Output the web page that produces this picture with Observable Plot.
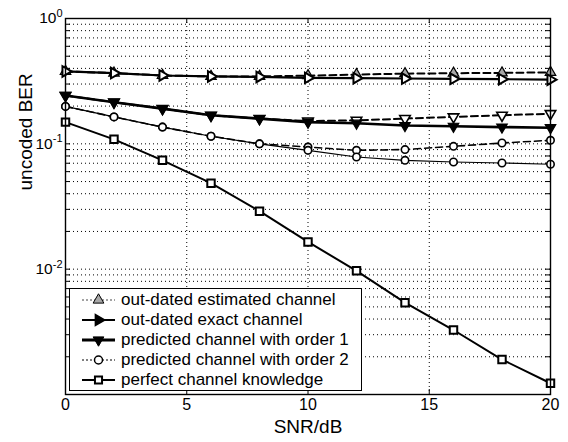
<!DOCTYPE html>
<html><head><meta charset="utf-8">
<script src="https://cdn.jsdelivr.net/npm/d3@7"></script>
<script src="https://cdn.jsdelivr.net/npm/@observablehq/plot@0.6"></script>
<style>
body{margin:0;background:#fff;font-family:"Liberation Sans",Arial,Helvetica,sans-serif;}
#wrap{position:relative;width:568px;height:442px;overflow:hidden;}
#legend{position:absolute;left:69px;top:288px;width:293px;height:103px;border:1.2px solid #000;background:#fff;box-sizing:border-box;}
.row{position:absolute;left:0;height:20px;display:flex;align-items:center;font-size:17px;color:#000;white-space:nowrap;}
.row svg{margin-left:12px;margin-right:6px;}
</style></head><body><div id="wrap"><div id="legend"></div></div>
<script>
// ---- data ----
const snr = [0, 2, 4, 6, 8, 10, 12, 14, 16, 18, 20];
const outdatedEstimated = [0.378, 0.367, 0.351, 0.345, 0.345, 0.350, 0.357, 0.363, 0.366, 0.368, 0.372];
const outdatedExact     = [0.378, 0.367, 0.351, 0.345, 0.342, 0.336, 0.334, 0.332, 0.330, 0.328, 0.325];
const predictedOrder1   = [0.243, 0.215, 0.191, 0.169, 0.159, 0.149, 0.146, 0.140, 0.138, 0.136, 0.1345];
const predictedOrder1Est= [0.243, 0.215, 0.191, 0.169, 0.159, 0.152, 0.154, 0.159, 0.164, 0.169, 0.174];
const predictedOrder2   = [0.199, 0.164, 0.136, 0.115, 0.100, 0.0888, 0.0785, 0.0739, 0.0716, 0.0703, 0.0687];
const predictedOrder2Est= [0.199, 0.164, 0.136, 0.115, 0.100, 0.0943, 0.0888, 0.0900, 0.0955, 0.1015, 0.1067];
const perfect           = [0.149, 0.1086, 0.0739, 0.0485, 0.029, 0.0165, 0.0097, 0.0054, 0.00327, 0.0019, 0.00123];

const xTicks = [0, 5, 10, 15, 20];
const xGrid = [5, 10, 15];
const yLabelExponents = [-2, -1, 0];
const legendLabels = [
  "out-dated estimated channel",
  "out-dated exact channel",
  "predicted channel with order 1",
  "predicted channel with order 2",
  "perfect channel knowledge"
];

// ---- build tables ----
const toRows = (vals) => snr.map((s, i) => ({snr: s, ber: vals[i]}));
const yTicks = yLabelExponents.map(e => Math.pow(10, e));
const yMinor = [];
for (let e = -3; e < 0; e++) for (let m = 1; m <= 9; m++) yMinor.push(m * Math.pow(10, e));
yMinor.push(1);
const yGrid = yMinor.filter(v => v > 1.0001e-3 && v < 0.9999);

// series styling (not data)
const series = [
  {vals: outdatedEstimated, line: {strokeWidth: 2, strokeDasharray: "7,4"}, dot: {symbol: "triangle", r: 3.9, fill: "#a8a8a8", stroke: "#000", strokeWidth: 1.2, rotate: 0}},
  {vals: outdatedExact, line: {strokeWidth: 2.2}, dot: {symbol: "triangle", r: 3.9, fill: "#fff", stroke: "#000", strokeWidth: 2, rotate: 90}},
  {vals: predictedOrder1Est, line: {strokeWidth: 2, strokeDasharray: "7,4"}, dot: {symbol: "triangle", r: 3.9, fill: "#fff", stroke: "#000", strokeWidth: 1.6, rotate: 180}},
  {vals: predictedOrder1, line: {strokeWidth: 2.6}, dot: {symbol: "triangle", r: 3.9, fill: "#000", stroke: "#000", strokeWidth: 1.2, rotate: 180}},
  {vals: predictedOrder2Est, line: {strokeWidth: 1.6, strokeDasharray: "7,4"}, dot: {symbol: "circle", r: 3.7, fill: "#fff", stroke: "#000", strokeWidth: 1.6, rotate: 0}},
  {vals: predictedOrder2, line: {strokeWidth: 1.2}, dot: {symbol: "circle", r: 3.7, fill: "#fff", stroke: "#000", strokeWidth: 1.6, rotate: 0}},
  {vals: perfect, line: {strokeWidth: 2}, dot: {symbol: "square", r: 4.2, fill: "#fff", stroke: "#000", strokeWidth: 2, rotate: 0}}
];

const W = 568, H = 442, mL = 65, mR = 18, mT = 18, mB = 48;
const plotW = W - mL - mR, plotH = H - mT - mB;

const marks = [
  Plot.ruleY(yGrid, {stroke: "#000", strokeWidth: 1, strokeDasharray: "1,3"}),
  Plot.ruleX(xGrid, {stroke: "#000", strokeWidth: 1, strokeDasharray: "1,3"}),
  // inward ticks
  Plot.tickX(xTicks, {x: d => d, insetTop: plotH - 5, stroke: "#000"}),
  Plot.tickX(xTicks, {x: d => d, insetBottom: plotH - 5, stroke: "#000"}),
  Plot.tickY(yMinor, {y: d => d, insetRight: plotW - 5, stroke: "#000"}),
  Plot.tickY(yMinor, {y: d => d, insetLeft: plotW - 5, stroke: "#000"}),
];
for (const s of series) {
  marks.push(Plot.line(toRows(s.vals), {x: "snr", y: "ber", stroke: "#000", ...s.line}));
}
for (const s of series) {
  marks.push(Plot.dot(toRows(s.vals), {x: "snr", y: "ber", ...s.dot}));
}
marks.push(
  Plot.frame({stroke: "#000", strokeWidth: 1.4}),
  Plot.axisX({ticks: xTicks, tickSize: 0, tickPadding: 4, fontSize: 16, label: null, tickFormat: d => String(d)}),
  Plot.axisY({ticks: yTicks, tickSize: 0, tickPadding: 3, fontSize: 15.5, label: null, tickFormat: d => "10^" + Math.round(Math.log10(d))}),
  Plot.text(["SNR/dB"], {frameAnchor: "bottom", dy: 38, fontSize: 19}),
  Plot.text(["uncoded BER"], {frameAnchor: "left", dx: -40, dy: -16, rotate: -90, fontSize: 19})
);

const chart = Plot.plot({
  width: W, height: H,
  marginLeft: mL, marginRight: mR, marginTop: mT, marginBottom: mB,
  style: {fontFamily: '"Liberation Sans", Arial, sans-serif', color: "#000", background: "#fff"},
  x: {domain: [0, 20]},
  y: {type: "log", domain: [1e-3, 1]},
  marks
});

// superscript exponents on the y tick labels
d3.select(chart).selectAll('g[aria-label="y-axis tick label"] text').each(function () {
  const t = this.textContent;
  const m = /^10\^(-?\d+)$/.exec(t);
  if (!m) return;
  const sel = d3.select(this);
  sel.text("");
  sel.append("tspan").text("10");
  sel.append("tspan").attr("dy", "-0.6em").attr("font-size", 11).text(m[1]);
});

const wrap = document.getElementById("wrap");
wrap.insertBefore(chart, wrap.firstChild);
chart.style.position = "absolute"; chart.style.left = "0"; chart.style.top = "0";

// legend
const legendStyles = [
  {line: {w: 1, dash: "2,2", color: "#444"}, sym: d3.symbolTriangle, rot: 0, fill: "#a8a8a8", stroke: "#000", sw: 1},
  {line: {w: 2, dash: null, color: "#000"}, sym: d3.symbolTriangle, rot: 90, fill: "#000", stroke: "#000", sw: 1.5},
  {line: {w: 3, dash: null, color: "#000"}, sym: d3.symbolTriangle, rot: 180, fill: "#000", stroke: "#000", sw: 1},
  {line: {w: 1, dash: "2,2", color: "#000"}, sym: d3.symbolCircle, rot: 0, fill: "#fff", stroke: "#000", sw: 1.5},
  {line: {w: 2, dash: null, color: "#000"}, sym: d3.symbolSquare, rot: 0, fill: "#fff", stroke: "#000", sw: 2}
];
const legend = document.getElementById("legend");
legendLabels.forEach((label, i) => {
  const st = legendStyles[i];
  const row = document.createElement("div");
  row.className = "row";
  row.style.top = (1 + i * 20) + "px";
  const svg = d3.create("svg").attr("width", 33).attr("height", 14);
  svg.append("line").attr("x1", 0).attr("x2", 33).attr("y1", 7).attr("y2", 7)
    .attr("stroke", st.line.color).attr("stroke-width", st.line.w).attr("stroke-dasharray", st.line.dash);
  svg.append("path").attr("d", d3.symbol(st.sym, Math.PI * 4 * 4)())
    .attr("transform", `translate(16.5,7) rotate(${st.rot})`)
    .attr("fill", st.fill).attr("stroke", st.stroke).attr("stroke-width", st.sw);
  row.appendChild(svg.node());
  const span = document.createElement("span");
  span.textContent = label;
  row.appendChild(span);
  legend.appendChild(row);
});
</script></body></html>
